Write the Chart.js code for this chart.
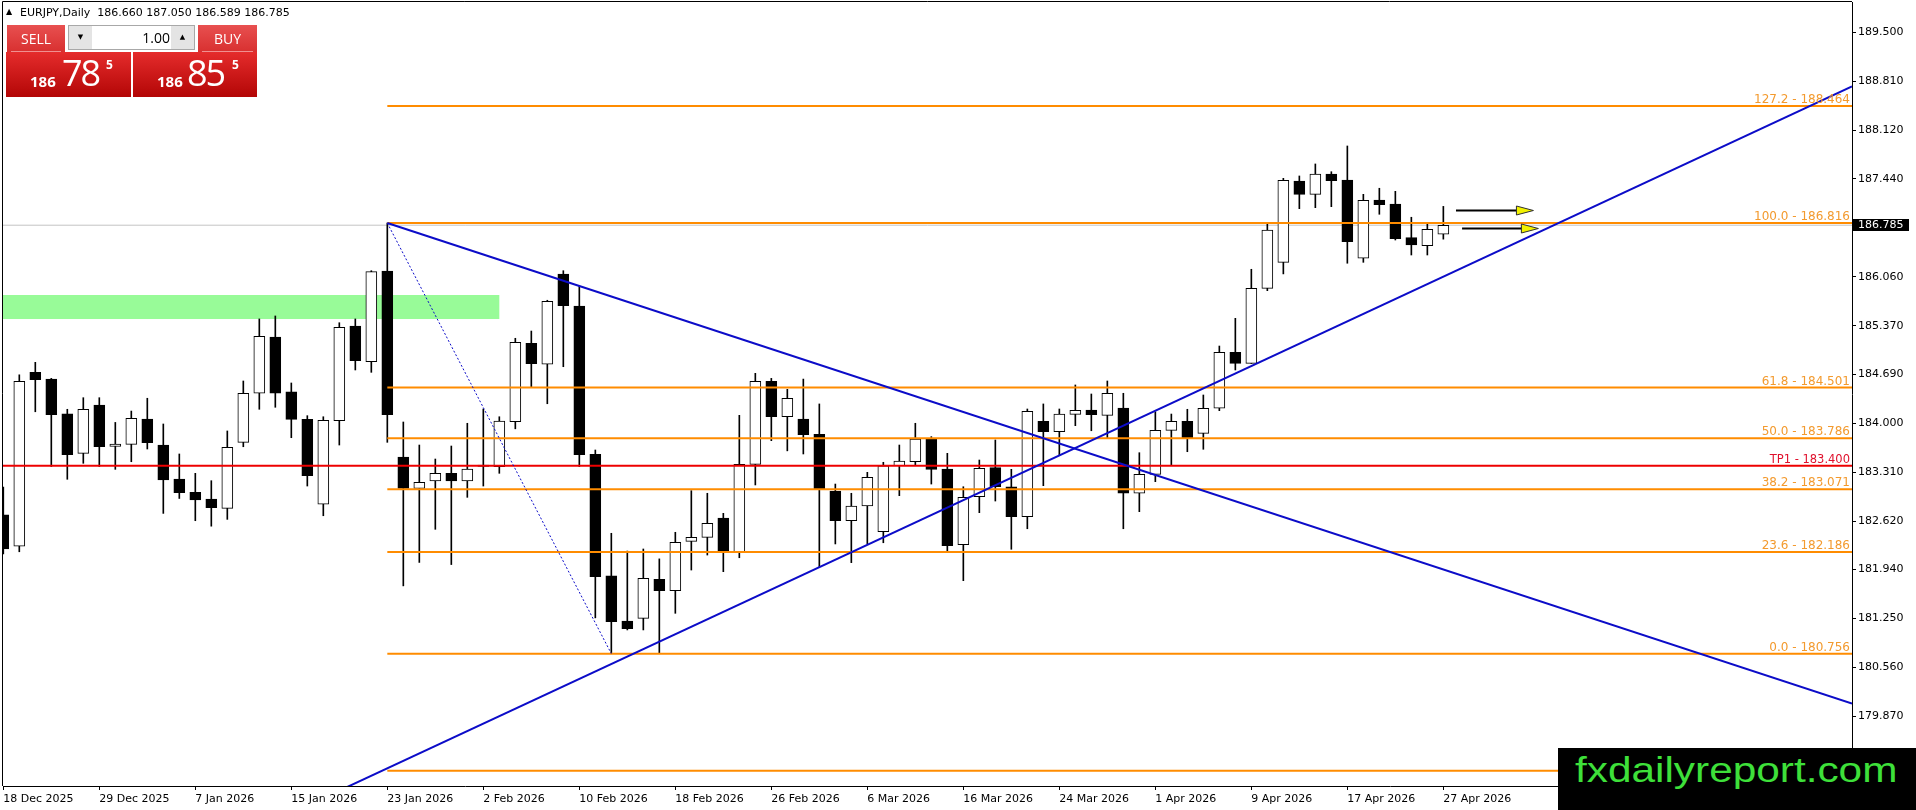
<!DOCTYPE html>
<html><head><meta charset="utf-8">
<script src="https://cdn.jsdelivr.net/npm/chart.js@4.4.1/dist/chart.umd.min.js"></script>
<style>
html,body{margin:0;padding:0;background:#fff;width:1916px;height:810px;overflow:hidden;}
#wrap{position:relative;width:1916px;height:810px;}
#c{position:absolute;left:0;top:0;}
#hdr{position:absolute;left:20px;top:6px;font:11px 'DejaVu Sans';color:#000;white-space:pre;line-height:14px;}
#tri{position:absolute;left:6px;top:8px;font:8px 'DejaVu Sans';color:#000;line-height:8px;}
.btn{position:absolute;top:25px;height:27px;background:linear-gradient(#e85050,#d83030);color:#fff;font:14px 'Open Sans';text-align:center;line-height:27px;}
.btn i{position:absolute;left:4px;right:4px;bottom:0;height:1px;background:#f09090;}
#sell{left:7px;width:58px;}
#buy{left:198px;width:59px;}
#spin{position:absolute;left:68px;top:25px;width:125px;height:23px;border:1px solid #a8a8a8;background:#fff;}
#spin .a{position:absolute;top:0;width:23px;height:23px;background:#e4e4e4;font:7px 'DejaVu Sans';line-height:23px;text-align:center;color:#000;}
#spin .v{position:absolute;left:24px;width:77px;top:0;height:23px;text-align:right;font:14px 'Open Sans';line-height:24px;color:#000;}
.pbox{position:absolute;top:52px;height:45px;background:linear-gradient(#e52c2c,#b30606);color:#fff;font-family:'Open Sans';}
.pbox span{position:absolute;line-height:1;white-space:nowrap;}
.pbox .s{font-size:15px;font-weight:bold;top:22px;}
.pbox .b{font-size:36px;top:3px;letter-spacing:-2px;}
.pbox .u{font-size:12px;font-weight:bold;top:7px;}
#bidbox{left:6px;width:125px;}
#askbox{left:133px;width:124px;}
#wm{position:absolute;left:1558px;top:748px;width:358px;height:62px;background:#000;overflow:hidden;}
#wm span{position:absolute;left:17px;top:4px;font:35px 'Liberation Sans';line-height:1;color:#3ee03a;white-space:nowrap;transform:scaleX(1.21);transform-origin:0 0;}
</style></head><body>
<div id="wrap">
<canvas id="c" width="1916" height="810"></canvas>
<div id="tri">▲</div>
<div id="hdr">EURJPY,Daily  186.660 187.050 186.589 186.785</div>
<div class="btn" id="sell">SELL<i></i></div>
<div id="spin"><div class="a" style="left:0">▼</div><div class="v">1.00</div><div class="a" style="left:102px">▲</div></div>
<div class="btn" id="buy">BUY<i></i></div>
<div class="pbox" id="bidbox"><span class="s" style="left:24px">186</span><span class="b" style="left:56px">78</span><span class="u" style="left:100px">5</span></div>
<div class="pbox" id="askbox"><span class="s" style="left:24px">186</span><span class="b" style="left:54px">85</span><span class="u" style="left:99px">5</span></div>
<div id="wm"><span>fxdailyreport.com</span></div>
</div>
<script>
// ---------- data ----------
const dates = ["18 Dec 2025","19 Dec 2025","22 Dec 2025","23 Dec 2025","24 Dec 2025","26 Dec 2025","29 Dec 2025","30 Dec 2025","31 Dec 2025","2 Jan 2026",
"5 Jan 2026","6 Jan 2026","7 Jan 2026","8 Jan 2026","9 Jan 2026","12 Jan 2026","13 Jan 2026","14 Jan 2026","15 Jan 2026","16 Jan 2026",
"19 Jan 2026","20 Jan 2026","21 Jan 2026","22 Jan 2026","23 Jan 2026","26 Jan 2026","27 Jan 2026","28 Jan 2026","29 Jan 2026","30 Jan 2026",
"2 Feb 2026","3 Feb 2026","4 Feb 2026","5 Feb 2026","6 Feb 2026","9 Feb 2026","10 Feb 2026","11 Feb 2026","12 Feb 2026","13 Feb 2026",
"16 Feb 2026","17 Feb 2026","18 Feb 2026","19 Feb 2026","20 Feb 2026","23 Feb 2026","24 Feb 2026","25 Feb 2026","26 Feb 2026","27 Feb 2026",
"2 Mar 2026","3 Mar 2026","4 Mar 2026","5 Mar 2026","6 Mar 2026","9 Mar 2026","10 Mar 2026","11 Mar 2026","12 Mar 2026","13 Mar 2026",
"16 Mar 2026","17 Mar 2026","18 Mar 2026","19 Mar 2026","20 Mar 2026","23 Mar 2026","24 Mar 2026","25 Mar 2026","26 Mar 2026","27 Mar 2026",
"30 Mar 2026","31 Mar 2026","1 Apr 2026","2 Apr 2026","3 Apr 2026","6 Apr 2026","7 Apr 2026","8 Apr 2026","9 Apr 2026","10 Apr 2026",
"13 Apr 2026","14 Apr 2026","15 Apr 2026","16 Apr 2026","17 Apr 2026","20 Apr 2026","21 Apr 2026","22 Apr 2026","23 Apr 2026","24 Apr 2026",
"27 Apr 2026"];
const opens = [182.71,182.27,184.715,184.62,184.13,183.575,184.255,183.674,183.702,184.058,
183.692,183.214,183.027,182.93,182.80,183.73,184.42,185.21,184.44,184.054,
182.858,184.034,185.367,184.864,186.14,183.523,183.083,183.186,183.294,183.186,
183.41,183.387,184.02,185.123,184.828,186.099,185.648,183.56,181.85,181.215,
181.253,181.802,181.642,182.337,182.393,182.665,182.177,183.42,184.59,184.09,
184.058,183.843,183.045,182.627,182.834,182.472,183.40,183.457,183.772,183.354,
182.29,182.965,183.373,183.105,182.683,184.026,183.88,184.124,184.185,184.11,
184.213,183.013,183.28,183.899,184.026,183.857,184.209,184.997,184.842,185.897,
186.263,187.407,187.22,187.506,187.42,186.32,187.14,187.084,186.61,186.497,
186.660];
const highs = [183.10,184.68,184.856,184.63,184.195,184.358,184.358,184.01,184.17,184.35,
183.988,183.566,183.294,183.19,183.89,184.593,185.466,185.508,184.565,184.105,
184.09,185.413,185.466,186.145,186.816,184.016,183.692,183.495,183.678,183.998,
184.199,184.09,185.194,185.296,185.729,186.145,185.93,183.622,182.45,182.20,
182.229,182.09,182.464,183.05,183.013,182.731,184.11,184.701,184.63,184.476,
184.62,184.27,183.143,183.013,183.308,183.449,183.692,183.998,183.81,183.575,
183.105,183.481,183.763,183.35,184.199,184.27,184.199,184.537,184.41,184.593,
184.42,183.584,184.16,184.128,184.195,184.396,185.085,185.475,186.165,186.798,
187.445,187.478,187.647,187.538,187.90,187.22,187.305,187.262,186.897,186.798,
187.050];
const lows = [182.16,182.19,184.16,183.39,183.21,183.435,183.39,183.35,183.457,183.636,
182.73,182.94,182.627,182.55,182.646,183.668,184.195,184.223,183.795,183.115,
182.697,183.692,184.748,184.715,183.73,181.71,182.04,182.506,182.01,182.956,
183.115,183.294,183.92,184.513,184.273,184.794,183.389,181.26,180.756,181.09,
181.09,180.77,181.324,181.933,182.144,181.91,182.106,183.13,183.753,183.61,
183.566,181.98,182.30,182.037,182.30,182.317,182.979,183.41,183.143,182.19,
181.783,182.74,182.904,182.225,182.514,183.12,183.552,183.964,183.893,183.795,
182.514,182.754,183.176,183.415,183.598,183.632,184.175,184.748,184.84,185.864,
186.10,187.018,187.032,187.046,186.25,186.263,186.939,186.577,186.366,186.366,
186.589];
const closes = [182.23,184.59,184.611,184.12,183.556,184.195,183.668,183.706,184.068,183.725,
183.20,183.02,182.92,182.81,183.66,184.42,185.222,184.42,184.054,183.26,
184.04,185.349,184.878,186.131,184.12,183.083,183.167,183.294,183.186,183.355,
183.39,184.03,185.137,184.836,185.715,185.653,183.556,181.838,181.206,181.107,
181.816,181.642,182.323,182.393,182.59,182.186,183.42,184.59,184.09,184.35,
183.837,183.073,182.627,182.834,183.238,183.40,183.467,183.777,183.35,182.275,
182.956,183.364,183.105,182.683,184.166,183.88,184.128,184.18,184.118,184.42,
183.013,183.28,183.899,184.026,183.79,184.209,184.997,184.842,185.897,186.718,
187.417,187.22,187.506,187.412,186.553,187.136,187.074,186.596,186.507,186.728,
186.785];
const dateTickIdx = [0,6,12,18,24,30,36,42,48,54,60,66,72,78,84,90];
const priceTicks = [189.500,188.810,188.120,187.440,186.060,185.370,184.690,184.000,183.310,182.620,181.940,181.250,180.560,179.870];
const fibLevels = [188.464,186.816,184.501,183.786,183.071,182.186,180.756,179.108];
const fibNames  = ["127.2","100.0","61.8","50.0","38.2","23.6","0.0","-27.2"];
const fibStartIdx = 24;
const fibSwing = [[24,186.816],[38,180.756]];
const tpLevel = 183.400;
const tpName = "TP1";
const bidPrice = 186.785;
const trendUp = [[24,179.143],[90,186.061]];
const trendDown = [[24,186.816],[90,181.942]];
const zoneIdx = [-1,31];
const zonePrice = [185.465,185.803];
const arrowFrom = [90.79,91.17];
const arrowTo = [95.63,95.94];
const arrowPrice = [187.000,186.750];

// ---------- view ----------
const X_MIN = -0.019, X_MAX = 115.54;
const Y_MIN = 178.894, Y_MAX = 189.926;
const F = "'DejaVu Sans'";
const ORANGE = '#ff8c00', BLUE = '#0c0cc8', RED = '#ee0000';

function through(a, b, xs, xe){
  const k = (b[1]-a[1])/(b[0]-a[0]);
  return [{x:xs, y:a[1]+(xs-a[0])*k}, {x:xe, y:a[1]+(xe-a[0])*k}];
}
function lineDs(data, color, width, order, dash){
  return {type:'line', data, borderColor:color, borderWidth:width, borderDash:dash||[], pointRadius:0, fill:false, tension:0, order, borderCapStyle:'butt'};
}

const wickData = highs.map((h,i)=>({x:i, y:[lows[i], h]}));
const bodyData = opens.map((o,i)=>({x:i, y:[o, closes[i]]}));
const bodyFill = opens.map((o,i)=> closes[i] >= o ? '#ffffff' : '#000000');

const datasets = [];
datasets.push(lineDs([{x:X_MIN,y:bidPrice},{x:X_MAX,y:bidPrice}], '#c4c4c4', 1, 9));
fibLevels.forEach(v => datasets.push(lineDs([{x:fibStartIdx,y:v},{x:X_MAX,y:v}], ORANGE, 2, 1)));
datasets.push(lineDs([{x:X_MIN,y:tpLevel},{x:X_MAX,y:tpLevel}], RED, 2, 1));
datasets.push(lineDs(through(trendUp[0], trendUp[1], X_MIN, X_MAX), BLUE, 2, 0));
datasets.push(lineDs(through(trendDown[0], trendDown[1], trendDown[0][0], X_MAX), BLUE, 2, 0));
datasets.push(lineDs(fibSwing.map(p=>({x:p[0],y:p[1]})), BLUE, 1, 0, [2,2]));
datasets.push({type:'bar', data: bodyData, backgroundColor: bodyFill, borderColor:'#000', borderWidth:1, borderSkipped:false, barThickness:11, grouped:false, order:3});
datasets.push({type:'bar', data: wickData, backgroundColor:'#000', borderWidth:0, barThickness:1, grouped:false, order:4});

const overlay = {
  id:'overlay',
  beforeDatasetsDraw(chart){
    const {ctx, chartArea:a, scales:{x,y}} = chart;
    ctx.save();
    ctx.beginPath(); ctx.rect(a.left, a.top, a.right-a.left, a.bottom-a.top); ctx.clip();
    const x0 = x.getPixelForValue(zoneIdx[0]), x1 = x.getPixelForValue(zoneIdx[1]);
    const y0 = y.getPixelForValue(zonePrice[1]), y1 = y.getPixelForValue(zonePrice[0]);
    ctx.fillStyle = '#98fb98';
    ctx.fillRect(x0, y0, x1-x0, y1-y0);
    ctx.restore();
  },
  afterDatasetsDraw(chart){
    const {ctx, chartArea:a, scales:{x,y}} = chart;
    ctx.save();
    ctx.textAlign = 'right'; ctx.textBaseline = 'alphabetic';
    ctx.font = "12px " + F;
    ctx.fillStyle = '#f39a2e';
    fibLevels.forEach((v,i)=>{
      ctx.fillText(fibNames[i] + ' - ' + v.toFixed(3), a.right-2, y.getPixelForValue(v)-3);
    });
    ctx.font = "11.5px " + F;
    ctx.fillStyle = '#e0102c';
    ctx.fillText(tpName + ' - ' + tpLevel.toFixed(3), a.right-2, y.getPixelForValue(tpLevel)-3);
    arrowFrom.forEach((f,i)=>{
      const xs = x.getPixelForValue(f), xe = x.getPixelForValue(arrowTo[i]);
      const yy = Math.round(y.getPixelForValue(arrowPrice[i]))+0.5;
      ctx.strokeStyle = '#000'; ctx.lineWidth = 2;
      ctx.beginPath(); ctx.moveTo(xs, yy); ctx.lineTo(xe-16, yy); ctx.stroke();
      ctx.beginPath(); ctx.moveTo(xe-17, yy-4.5); ctx.lineTo(xe, yy); ctx.lineTo(xe-17, yy+4.5); ctx.closePath();
      ctx.fillStyle = '#f2f200'; ctx.fill();
      ctx.lineWidth = 1; ctx.strokeStyle = '#303030'; ctx.stroke();
    });
    ctx.restore();
  },
  afterDraw(chart){
    const {ctx, chartArea:a, scales:{y}} = chart;
    ctx.save();
    ctx.strokeStyle = '#000'; ctx.lineWidth = 1;
    ctx.beginPath();
    ctx.moveTo(a.left-0.5, a.bottom); ctx.lineTo(a.left-0.5, a.top-0.5); ctx.lineTo(a.right, a.top-0.5);
    ctx.stroke();
    const py = Math.round(y.getPixelForValue(bidPrice));
    ctx.fillStyle = '#000';
    ctx.fillRect(a.right+1, py-6, 56, 12);
    ctx.fillStyle = '#fff';
    ctx.font = "11px " + F; ctx.textAlign = 'left'; ctx.textBaseline = 'middle';
    ctx.fillText(bidPrice.toFixed(3), a.right+6, py+0.5);
    ctx.restore();
  }
};

new Chart(document.getElementById('c'), {
  type:'bar',
  data:{datasets},
  plugins:[overlay],
  options:{
    responsive:false, animation:false, devicePixelRatio:1,
    layout:{padding:{left:3, top:2, right:0, bottom:0}},
    plugins:{legend:{display:false}, tooltip:{enabled:false}, title:{display:false}},
    events:[],
    scales:{
      x:{type:'linear', min:X_MIN, max:X_MAX, offset:false,
        afterBuildTicks: s => { s.ticks = dateTickIdx.map(v=>({value:v})); },
        afterFit: s => { s.height = 24; s.paddingLeft = 0; s.paddingRight = 0; },
        ticks:{autoSkip:false, maxRotation:0, minRotation:0, align:'start', padding:3, color:'#000', font:{family:'DejaVu Sans', size:11},
          callback: v => dates[v]},
        grid:{display:true, drawOnChartArea:false, offset:false, tickLength:4, tickColor:'#000', tickWidth:1},
        border:{display:true, color:'#000', width:1}
      },
      y:{type:'linear', position:'right', min:Y_MIN, max:Y_MAX, beginAtZero:false,
        afterBuildTicks: s => { s.ticks = priceTicks.map(v=>({value:v})); },
        afterFit: s => { s.width = 64; s.paddingTop = 0; s.paddingBottom = 0; },
        ticks:{autoSkip:false, padding:2, color:'#000', font:{family:'DejaVu Sans', size:11}, callback: v => v.toFixed(3)},
        grid:{display:true, drawOnChartArea:false, tickLength:4, tickColor:'#000', tickWidth:1},
        border:{display:true, color:'#000', width:1}
      }
    }
  }
});
</script>
</body></html>
